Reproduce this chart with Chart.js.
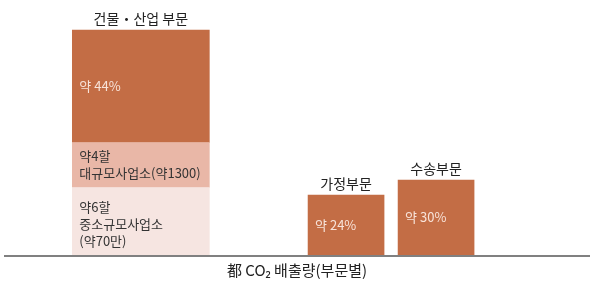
<!DOCTYPE html>
<html>
<head>
<meta charset="utf-8">
<script src="https://cdn.jsdelivr.net/npm/chart.js@4"></script>
<style>
  html, body { margin: 0; padding: 0; background: #fff; }
  #wrap { width: 590px; height: 282px; position: relative; }
</style>
</head>
<body>
<div id="wrap"><canvas id="chart"></canvas></div>
<script>
// data
const categories = ["건물・산업 부문", "가정부문", "수송부문"];
const sectorShare = [45, 24, 30];
const shareLabels = ["약 44%", "약 24%", "약 30%"];
const largeSiteShare = [18, null, null];
const smallSiteShare = [27, null, null];
const largeSiteLabel = ["약4할", "대규모사업소(약1300)"];
const smallSiteLabel = ["약6할", "중소규모사업소", "(약70만)"];
const chartTitle = "都 CO₂ 배출량(부문별)";

// where each category sits on the x scale (uneven gaps in the original)
const xSlots = [0.72, 3, 4];

const FONT = "'Noto Sans CJK KR', 'Noto Sans', sans-serif";
const DARK = "#c36d45";
const MID = "#e9b7a7";
const LIGHT = "#f6e5e1";

function points(values, only) {
  const out = [];
  values.forEach((v, i) => {
    if (v !== null && (!only || only.includes(i))) out.push({ x: xSlots[i], y: v });
  });
  return out;
}

const labelPlugin = {
  id: "labels",
  afterDatasetsDraw(chart) {
    const ctx = chart.ctx;
    const y = chart.scales.y;
    ctx.save();
    ctx.textBaseline = "middle";

    // bars: dataset 2 holds first category, dataset 3 the other two
    const bars = [
      chart.getDatasetMeta(2).data[0],
      chart.getDatasetMeta(3).data[0],
      chart.getDatasetMeta(3).data[1]
    ];

    // category names above bars
    ctx.font = "14px " + FONT;
    ctx.fillStyle = "#222";
    ctx.textAlign = "center";
    bars.forEach((b, i) => {
      ctx.fillText(categories[i], b.x, b.y - 11);
    });

    // share labels inside the dark segments
    ctx.font = "13px " + FONT;
    ctx.textAlign = "left";
    ctx.fillStyle = "#f8e3d9";
    bars.forEach((b, i) => {
      const left = b.x - b.width / 2 + 7;
      ctx.fillText(shareLabels[i], left, (b.y + b.base) / 2);
    });

    // breakdown labels in the pink segments
    ctx.fillStyle = "#333";
    const segs = [
      [chart.getDatasetMeta(1).data[0], largeSiteLabel, 0],
      [chart.getDatasetMeta(0).data[0], smallSiteLabel, 3]
    ];
    segs.forEach(([el, lines, shift]) => {
      const left = el.x - el.width / 2 + 7;
      const mid = (el.y + el.base) / 2 + shift;
      const lh = 17;
      const start = mid - (lines.length - 1) * lh / 2;
      lines.forEach((t, k) => ctx.fillText(t, left, start + k * lh));
    });

    // baseline
    const by = y.getPixelForValue(0);
    ctx.strokeStyle = "#808080";
    ctx.lineWidth = 2;
    ctx.beginPath();
    ctx.moveTo(chart.chartArea.left, by + 1);
    ctx.lineTo(chart.chartArea.right, by + 1);
    ctx.stroke();
    ctx.restore();
  }
};

new Chart(document.getElementById("chart"), {
  type: "bar",
  data: {
    datasets: [
      { data: points(smallSiteShare), backgroundColor: LIGHT, barThickness: 137 },
      { data: points(largeSiteShare), backgroundColor: MID, barThickness: 137 },
      { data: points(sectorShare, [0]), backgroundColor: DARK, barThickness: 137 },
      { data: points(sectorShare, [1, 2]), backgroundColor: DARK, barThickness: 76 }
    ]
  },
  options: {
    responsive: true,
    maintainAspectRatio: false,
    animation: false,
    layout: { padding: { left: 4, right: 0, top: 0, bottom: 0 } },
    scales: {
      x: { type: "linear", stacked: true, display: false, offset: false, min: -0.8, max: 5.71 },
      y: { stacked: true, display: false, min: 0, max: 102 }
    },
    plugins: {
      legend: { display: false },
      tooltip: { enabled: false },
      title: {
        display: true,
        position: "bottom",
        text: chartTitle,
        color: "#222",
        font: { family: FONT, size: 15, weight: "normal", lineHeight: 1.2 },
        padding: { top: 6, bottom: 3 }
      }
    }
  },
  plugins: [labelPlugin]
});
</script>
</body>
</html>
